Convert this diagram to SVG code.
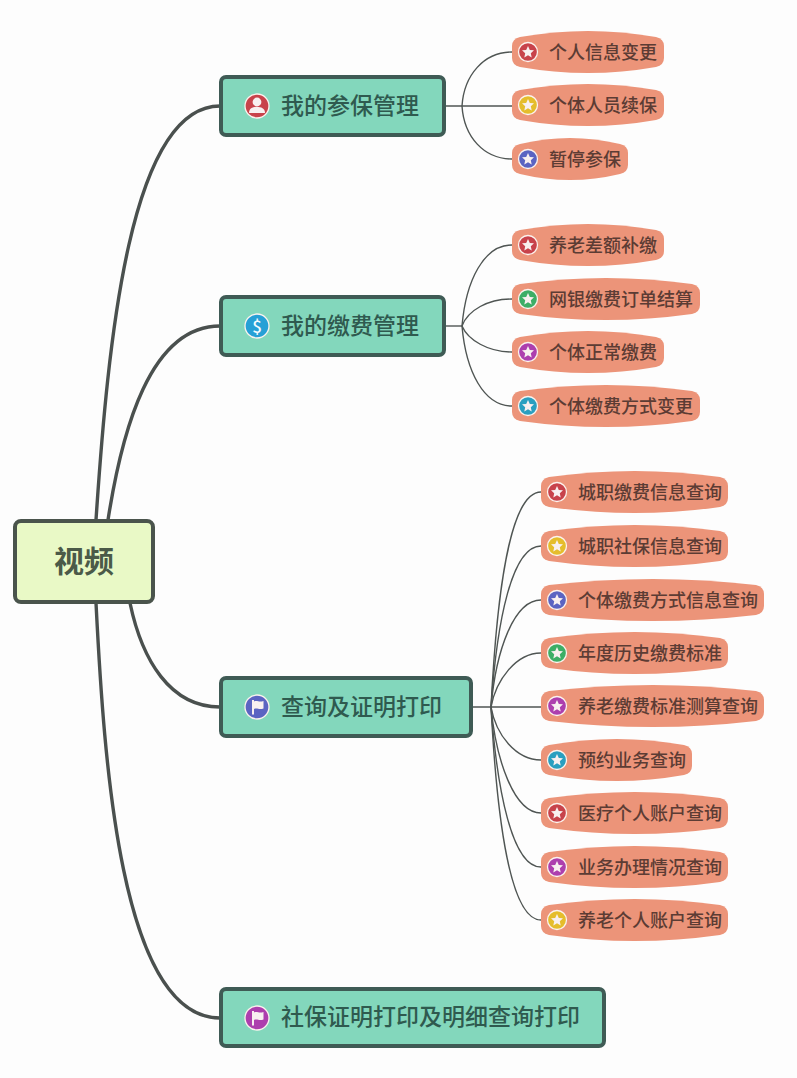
<svg xmlns="http://www.w3.org/2000/svg" xmlns:xlink="http://www.w3.org/1999/xlink" width="797" height="1078" viewBox="0 0 797 1078">
  <style>
    text { font-family: "Noto Sans CJK SC", "Noto Sans", sans-serif; }
    .trunk { fill: none; stroke: #4a504e; stroke-width: 3.4; stroke-linecap: round; }
    .twig { fill: none; stroke: #4f5553; stroke-width: 1.4; }
    .root-box { fill: #e9f9c6; stroke: #4a544c; stroke-width: 4; }
    .root-label { font-size: 30px; font-weight: 700; fill: #4b5a48; }
    .main-box { fill: #83d7bc; stroke: #3f5b55; stroke-width: 4; }
    .main-label { font-size: 23px; font-weight: 500; fill: #2f5a4f; }
    .pill { fill: #ec9479; }
    .leaf-label { font-size: 18px; fill: #5c3c34; font-weight: 500; }
    .ring { stroke: #fbf3ee; stroke-width: 1.3; }
    .mark { fill: #f8f0f0; }
    .red { fill: #c8434b; } .yellow { fill: #e5bd2c; } .blue { fill: #5b64c2; }
    .green { fill: #3dae66; } .purple { fill: #ad3fae; } .teal { fill: #2a9fc0; }
  </style>
  <defs>
    <g id="star-badge">
      <path class="mark" d="M0-6 1.8-2.1 6-1.7 2.8 1.2 3.7 5.4 0 3.2-3.700 5.4-2.8 1.2-6-1.700-1.800-2.1Z"/>
    </g>
    <g id="flag-mark">
      <path class="mark" d="M-5-7V7.5H-3V2C0 .5 2 3 6.5 1.5V-6C2-4.5 0-7-3-5.6V-7Z"/>
    </g>
  </defs>

  <rect width="797" height="1078" fill="#fdfdfd"/>

  <g id="connectors">
    <path class="trunk" d="M96 520C108 340 130 106 220 106"/>
    <path class="trunk" d="M108 520C122 430 150 326 220 326"/>
    <path class="trunk" d="M130 603C142 660 170 707 220 707"/>
    <path class="trunk" d="M96 603C104 760 120 1018 220 1018"/>

    <path class="twig" d="M444 106H512"/>
    <path class="twig" d="M462 106C464 75 484 52 512 52"/>
    <path class="twig" d="M462 106C464 137 484 159 512 159"/>

    <path class="twig" d="M444 326H462"/>
    <path class="twig" d="M462 326C466 280 484 245 512 245"/>
    <path class="twig" d="M462 326C468 310 488 299 512 299"/>
    <path class="twig" d="M462 326C468 340 488 352 512 352"/>
    <path class="twig" d="M462 326C466 372 484 406 512 406"/>

    <path class="twig" d="M472 707H541"/>
    <path class="twig" d="M491 707C497 590 510 492 541 492"/>
    <path class="twig" d="M491 707C497 620 512 546 541 546"/>
    <path class="twig" d="M491 707C496 650 514 600 541 600"/>
    <path class="twig" d="M491 707C496 680 516 653 541 653"/>
    <path class="twig" d="M491 707C496 735 516 760 541 760"/>
    <path class="twig" d="M491 707C496 760 514 813 541 813"/>
    <path class="twig" d="M491 707C497 790 512 867 541 867"/>
    <path class="twig" d="M491 707C497 820 510 920 541 920"/>
  </g>

  <g id="root">
    <rect class="root-box" x="15" y="521" width="138" height="81" rx="6"/>
    <text class="root-label" x="84" y="572" text-anchor="middle">视频</text>
  </g>

  <g id="main-participation">
    <rect class="main-box" x="221" y="77" width="223" height="58" rx="5"/>
    <circle class="red ring" cx="257" cy="106" r="12"/>
    <circle class="mark" cx="257" cy="102" r="4.4"/>
    <path class="mark" d="M249 113C249 108 253 107 257 107S265 108 265 113Z"/>
    <text class="main-label" x="281" y="114">我的参保管理</text>
  </g>
  <g id="main-payment">
    <rect class="main-box" x="221" y="297" width="223" height="58" rx="5"/>
    <circle class="ring" fill="#27a0d6" cx="257" cy="326" r="12"/>
    <text x="257" y="332.500" text-anchor="middle" font-size="17" font-weight="500" fill="#f4fbff">$</text>
    <text class="main-label" x="281" y="334">我的缴费管理</text>
  </g>
  <g id="main-inquiry">
    <rect class="main-box" x="221" y="678" width="250" height="58" rx="5"/>
    <circle class="blue ring" cx="257" cy="707" r="12"/>
    <use href="#flag-mark" x="257" y="707"/>
    <text class="main-label" x="281" y="715">查询及证明打印</text>
  </g>
  <g id="main-certificate">
    <rect class="main-box" x="221" y="989" width="383" height="57" rx="5"/>
    <circle class="purple ring" cx="257" cy="1018" r="12"/>
    <use href="#flag-mark" x="257" y="1018"/>
    <text class="main-label" x="281" y="1025">社保证明打印及明细查询打印</text>
  </g>

  <g id="leaf-1">
    <path class="pill" d="M520 37Q588 25 656 37Q664 39 664 46V58Q664 65 656 67Q588 79 520 67Q512 65 512 58V46Q512 39 520 37Z"/>
    <circle class="red ring" cx="528" cy="52" r="9.500"/><use href="#star-badge" x="528" y="52"/>
    <text class="leaf-label" x="549" y="58.500">个人信息变更</text>
  </g>
  <g id="leaf-2">
    <path class="pill" d="M520 90Q588 78 656 90Q664 92 664 99V111Q664 118 656 120Q588 132 520 120Q512 118 512 111V99Q512 92 520 90Z"/>
    <circle class="yellow ring" cx="528" cy="105" r="9.500"/><use href="#star-badge" x="528" y="105"/>
    <text class="leaf-label" x="549" y="111.500">个体人员续保</text>
  </g>
  <g id="leaf-3">
    <path class="pill" d="M520 144Q570 132 620 144Q628 146 628 153V165Q628 172 620 174Q570 186 520 174Q512 172 512 165V153Q512 146 520 144Z"/>
    <circle class="blue ring" cx="528" cy="159" r="9.500"/><use href="#star-badge" x="528" y="159"/>
    <text class="leaf-label" x="549" y="165.500">暂停参保</text>
  </g>
  <g id="leaf-4">
    <path class="pill" d="M520 230Q588 218 656 230Q664 232 664 239V251Q664 258 656 260Q588 272 520 260Q512 258 512 251V239Q512 232 520 230Z"/>
    <circle class="red ring" cx="528" cy="245" r="9.500"/><use href="#star-badge" x="528" y="245"/>
    <text class="leaf-label" x="549" y="251.500">养老差额补缴</text>
  </g>
  <g id="leaf-5">
    <path class="pill" d="M520 284Q606 272 692 284Q700 286 700 293V305Q700 312 692 314Q606 326 520 314Q512 312 512 305V293Q512 286 520 284Z"/>
    <circle class="green ring" cx="528" cy="299" r="9.500"/><use href="#star-badge" x="528" y="299"/>
    <text class="leaf-label" x="549" y="305.500">网银缴费订单结算</text>
  </g>
  <g id="leaf-6">
    <path class="pill" d="M520 337Q588 325 656 337Q664 339 664 346V358Q664 365 656 367Q588 379 520 367Q512 365 512 358V346Q512 339 520 337Z"/>
    <circle class="purple ring" cx="528" cy="352" r="9.500"/><use href="#star-badge" x="528" y="352"/>
    <text class="leaf-label" x="549" y="358.500">个体正常缴费</text>
  </g>
  <g id="leaf-7">
    <path class="pill" d="M520 391Q606 379 692 391Q700 393 700 400V412Q700 419 692 421Q606 433 520 421Q512 419 512 412V400Q512 393 520 391Z"/>
    <circle class="teal ring" cx="528" cy="406" r="9.500"/><use href="#star-badge" x="528" y="406"/>
    <text class="leaf-label" x="549" y="412.500">个体缴费方式变更</text>
  </g>

  <g id="leaf-8">
    <path class="pill" d="M549 477Q635 465 720 477Q728 479 728 486V498Q728 505 720 507Q635 519 549 507Q541 505 541 498V486Q541 479 549 477Z"/>
    <circle class="red ring" cx="557" cy="492" r="9.500"/><use href="#star-badge" x="557" y="492"/>
    <text class="leaf-label" x="578" y="498.500">城职缴费信息查询</text>
  </g>
  <g id="leaf-9">
    <path class="pill" d="M549 531Q635 519 720 531Q728 533 728 540V552Q728 559 720 561Q635 573 549 561Q541 559 541 552V540Q541 533 549 531Z"/>
    <circle class="yellow ring" cx="557" cy="546" r="9.500"/><use href="#star-badge" x="557" y="546"/>
    <text class="leaf-label" x="578" y="552.500">城职社保信息查询</text>
  </g>
  <g id="leaf-10">
    <path class="pill" d="M549 585Q653 573 756 585Q764 587 764 594V606Q764 613 756 615Q653 627 549 615Q541 613 541 606V594Q541 587 549 585Z"/>
    <circle class="blue ring" cx="557" cy="600" r="9.500"/><use href="#star-badge" x="557" y="600"/>
    <text class="leaf-label" x="578" y="606.500">个体缴费方式信息查询</text>
  </g>
  <g id="leaf-11">
    <path class="pill" d="M549 638Q635 626 720 638Q728 640 728 647V659Q728 666 720 668Q635 680 549 668Q541 666 541 659V647Q541 640 549 638Z"/>
    <circle class="green ring" cx="557" cy="653" r="9.500"/><use href="#star-badge" x="557" y="653"/>
    <text class="leaf-label" x="578" y="659.500">年度历史缴费标准</text>
  </g>
  <g id="leaf-12">
    <path class="pill" d="M549 691Q653 679 756 691Q764 693 764 700V712Q764 719 756 721Q653 733 549 721Q541 719 541 712V700Q541 693 549 691Z"/>
    <circle class="purple ring" cx="557" cy="706" r="9.500"/><use href="#star-badge" x="557" y="706"/>
    <text class="leaf-label" x="578" y="712.500">养老缴费标准测算查询</text>
  </g>
  <g id="leaf-13">
    <path class="pill" d="M549 745Q617 733 684 745Q692 747 692 754V766Q692 773 684 775Q617 787 549 775Q541 773 541 766V754Q541 747 549 745Z"/>
    <circle class="teal ring" cx="557" cy="760" r="9.500"/><use href="#star-badge" x="557" y="760"/>
    <text class="leaf-label" x="578" y="766.500">预约业务查询</text>
  </g>
  <g id="leaf-14">
    <path class="pill" d="M549 798Q635 786 720 798Q728 800 728 807V819Q728 826 720 828Q635 840 549 828Q541 826 541 819V807Q541 800 549 798Z"/>
    <circle class="red ring" cx="557" cy="813" r="9.500"/><use href="#star-badge" x="557" y="813"/>
    <text class="leaf-label" x="578" y="819.500">医疗个人账户查询</text>
  </g>
  <g id="leaf-15">
    <path class="pill" d="M549 852Q635 840 720 852Q728 854 728 861V873Q728 880 720 882Q635 894 549 882Q541 880 541 873V861Q541 854 549 852Z"/>
    <circle class="purple ring" cx="557" cy="867" r="9.500"/><use href="#star-badge" x="557" y="867"/>
    <text class="leaf-label" x="578" y="873.500">业务办理情况查询</text>
  </g>
  <g id="leaf-16">
    <path class="pill" d="M549 905Q635 893 720 905Q728 907 728 914V926Q728 933 720 935Q635 947 549 935Q541 933 541 926V914Q541 907 549 905Z"/>
    <circle class="yellow ring" cx="557" cy="920" r="9.500"/><use href="#star-badge" x="557" y="920"/>
    <text class="leaf-label" x="578" y="926.500">养老个人账户查询</text>
  </g>
</svg>
